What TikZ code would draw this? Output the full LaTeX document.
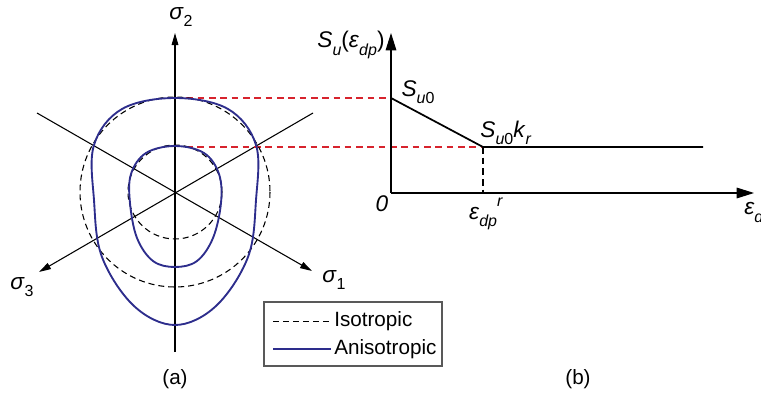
\documentclass[tikz,border=0pt]{standalone}
\usepackage{fontspec}
\setmainfont{Liberation Sans}
\usetikzlibrary{arrows.meta}

\definecolor{aniso}{RGB}{45,45,140}
\definecolor{projred}{RGB}{215,35,45}

\newcommand{\lo}[1]{\raisebox{-0.6ex}{\fontsize{12}{13}\selectfont #1}}
\newcommand{\hi}[1]{\raisebox{1.1ex}{\fontsize{12}{13}\selectfont #1}}

\begin{document}
\begin{tikzpicture}[x=0.75pt, y=-0.75pt, every node/.style={font=\fontsize{15.5}{17}\selectfont, inner sep=0pt},
	smallarr/.style={-{Triangle[length=9pt, width=5pt]}},
	bigarr/.style={-{Triangle[length=13pt, width=8pt]}},
	isoline/.style={black, dashed, dash pattern=on 4.5pt off 3pt, thick},
	anisoline/.style={aniso, line width=1.4pt},
	projline/.style={projred, dash pattern=on 5pt off 3.5pt, thick},
	mathlbl/.style={font=\fontsize{17}{19}\selectfont}]
	\useasboundingbox (0,0) rectangle (761,396);

	% (a) principal stress axes
	\coordinate (O) at (175,193);
	\coordinate (s2top) at (175,33);
	\coordinate (s2bot) at (175,352);
	\coordinate (ul) at (37,113);
	\coordinate (ur) at (313,113);
	\coordinate (s3end) at (39,272);
	\coordinate (s1end) at (312,271);
	\draw[thick, smallarr] (s2bot) -- (s2top);
	\draw[thick, smallarr] (ur) -- (s3end);
	\draw[thick, smallarr] (ul) -- (s1end);
	\node[mathlbl] (s2) at (181,17) {\textit{σ}\lo{2}};
	\node[mathlbl] (s3) at (22,287) {\textit{σ}\lo{3}};
	\node[mathlbl] (s1) at (334,280) {\textit{σ}\lo{1}};

	% red projection lines
	\coordinate (a0) at (175,98);
	\coordinate (a1) at (186,147);
	\coordinate (yS0) at (391,98);
	\coordinate (kr) at (483,147);
	\draw[projline] (a0) -- (yS0);
	\draw[projline] (a1) -- (kr);

	% isotropic surfaces
	\draw[isoline] (O) ++(0,-1) circle[radius=95];
	\draw[isoline] (O) ++(0,-1) circle[radius=47];

	% anisotropic surfaces
	\draw[anisoline] plot[smooth cycle, tension=0.6] coordinates {(175,98) (228,109) (256,145) (256,200) (248,257) (216,306) (175,325) (134,306) (102,257) (94,200) (94,145) (122,109)};
	\draw[anisoline] plot[smooth cycle, tension=0.6] coordinates {(175,146) (204,153) (219,174) (221,203) (213,238) (197,261) (175,267) (153,261) (137,238) (130,203) (131,174) (146,153)};

	% legend
	\draw[gray!70!black, thick] (264,302) rectangle (442,366);
	\coordinate (l1a) at (273,321);
	\coordinate (l1b) at (331,321);
	\coordinate (l2a) at (273,349);
	\coordinate (l2b) at (331,349);
	\draw[isoline, thin] (l1a) -- (l1b);
	\draw[anisoline] (l2a) -- (l2b);
	\node[anchor=west] (iso) at (334,321) {Isotropic};
	\node[anchor=west] (aniso) at (334,349) {Anisotropic};
	\node (la) at (175,379) {(a)};

	% (b) strength softening
	\coordinate (orig) at (391,193);
	\coordinate (ytop) at (391,33);
	\coordinate (xend) at (754,193);
	\coordinate (kend) at (703,147);
	\coordinate (kbot) at (483,193);
	\draw[thick, bigarr] (orig) -- (ytop);
	\draw[thick, bigarr] (orig) -- (xend);
	\draw[line width=1.3pt] (yS0) -- (kr) -- (kend);
	\draw[black, dashed, dash pattern=on 5pt off 3pt, thick] (kr) -- (kbot);
	\node[mathlbl] (Su) at (351,45) {\textit{S}\lo{\textit{u}}(\textit{ε}\lo{\textit{dp}})};
	\node[mathlbl] (Su0) at (418,92) {\textit{S}\lo{\textit{u}0}};
	\node[mathlbl] (Su0kr) at (506,133) {\textit{S}\lo{\textit{u}0}\textit{k}\lo{\textit{r}}};
	\node[mathlbl] (zero) at (382,204) {\textit{0}};
	\node[mathlbl] (epsr) at (486,214) {\textit{ε}\lo{\textit{dp}}\hi{\textit{r}}};
	\node[mathlbl, anchor=west] (epsx) at (744,214) {\textit{ε}\lo{\textit{dp}}};
	\node (lb) at (578,379) {(b)};
\end{tikzpicture}
\end{document}
